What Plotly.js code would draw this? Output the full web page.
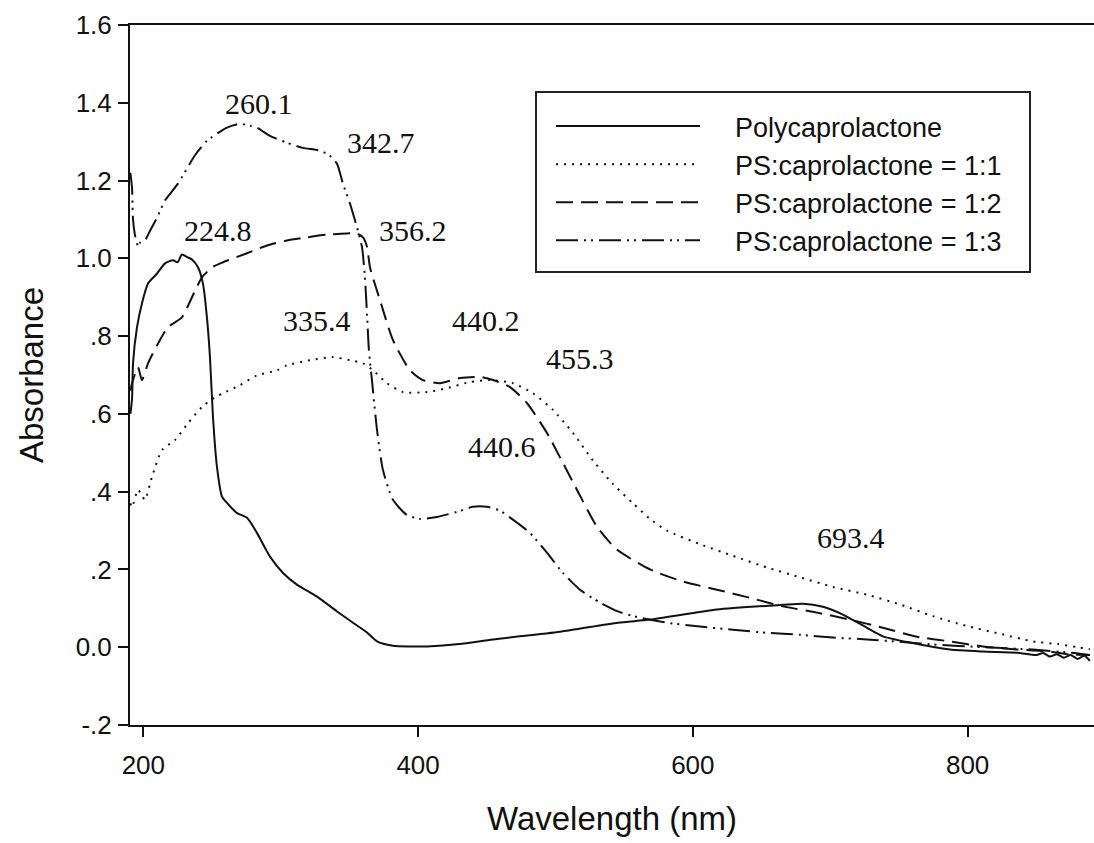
<!DOCTYPE html>
<html>
<head>
<meta charset="utf-8">
<script src="https://cdn.plot.ly/plotly-3.0.1.min.js"></script>
<style>html,body{margin:0;padding:0;background:#fff}#chart{width:1094px;height:843px}</style>
</head>
<body>
<div id="chart"></div>
<script>
// Polycaprolactone (solid)
const pclX = [190.6,191.8,192.5,195.4,199.0,203.4,210.0,215.8,221.6,225.0,228.1,232.0,235.4,239.8,243.4,246.3,248.5,250.7,253.6,257.3,260.9,268.2,275.5,282.7,292.2,301.7,311.8,326.4,341.0,352.6,362.8,370.1,381.7,394.1,406.5,430.0,454.5,503.3,545.5,568.8,617.5,665.6,680.1,694.7,709.2,726.7,738.3,758.0,787.1,811.1,835.9,850.0,855.0,860.0,865.0,870.0,875.0,880.0,885.0,889.0];
const pclY = [0.60,0.64,0.73,0.823,0.884,0.935,0.961,0.987,0.995,0.99,1.01,1.003,0.997,0.977,0.935,0.848,0.746,0.592,0.464,0.387,0.371,0.345,0.333,0.294,0.233,0.191,0.161,0.13,0.092,0.063,0.038,0.015,0.004,0.002,0.002,0.008,0.02,0.04,0.063,0.071,0.097,0.109,0.112,0.104,0.084,0.05,0.028,0.012,-0.006,-0.011,-0.014,-0.02,-0.015,-0.024,-0.018,-0.027,-0.02,-0.03,-0.022,-0.035];

// PS:caprolactone = 1:1 (dotted)
const r11X = [190.6,191.8,196.1,199.0,201.2,206.3,213.6,223.1,232.5,242.7,252.2,258.0,270.4,282.7,297.3,304.6,321.3,338.0,350.4,359.9,367.2,377.3,389.0,406.5,421.0,437.8,452.3,469.0,483.6,498.2,512.7,527.3,541.8,556.4,568.8,581.1,605.1,629.2,653.9,677.9,701.9,726.7,750.7,774.7,799.0,823.0,847.5,866.0,880.0,889.0];
const r11Y = [0.37,0.36,0.405,0.39,0.379,0.438,0.507,0.533,0.576,0.618,0.643,0.653,0.674,0.699,0.712,0.725,0.738,0.746,0.738,0.73,0.712,0.679,0.656,0.656,0.666,0.682,0.687,0.679,0.653,0.61,0.551,0.48,0.42,0.37,0.33,0.30,0.265,0.235,0.205,0.18,0.155,0.135,0.11,0.08,0.055,0.035,0.015,0.008,0.0,-0.005];

// PS:caprolactone = 1:2 (dashed)
const r12X = [190.6,191.8,196.1,199.0,203.4,210.7,218.0,228.1,235.4,242.7,250.0,258.0,275.5,290.0,304.6,319.0,333.6,348.2,355.5,359.9,362.8,365.0,372.3,381.7,394.1,403.5,415.9,430.5,445.0,454.5,466.9,479.2,493.8,505.4,515.6,530.2,544.7,568.8,592.8,617.5,641.5,665.6,690.3,714.3,738.3,763.1,787.1,811.1,835.9,859.9,874.4,889.0];
const r12Y = [0.66,0.679,0.72,0.687,0.73,0.781,0.823,0.848,0.9,0.951,0.977,0.99,1.013,1.033,1.046,1.054,1.061,1.064,1.064,1.054,1.03,0.977,0.892,0.79,0.712,0.687,0.679,0.692,0.695,0.687,0.669,0.628,0.551,0.474,0.405,0.31,0.251,0.2,0.169,0.148,0.127,0.105,0.089,0.071,0.05,0.027,0.015,0.002,-0.006,-0.011,-0.019,-0.02];

// PS:caprolactone = 1:3 (dash-dot-dot)
const r13X = [190.6,191.8,192.5,193.9,195.4,196.1,197.6,201.2,204.9,210.0,215.8,225.2,237.6,246.3,260.9,270.4,277.6,282.7,292.2,304.6,316.2,328.6,335.9,341.0,345.3,350.4,355.5,359.2,361.3,362.8,364.2,366.4,370.1,374.4,381.7,391.9,401.4,413.7,428.3,439.9,450.1,459.6,469.0,481.4,493.8,505.4,517.8,532.4,545.5,556.4,581.1,605.1,629.2,653.9,677.9,701.9,726.7,750.7,774.7,811.1,847.5,874.4,889.0];
const r13Y = [1.22,1.18,1.10,1.06,1.04,1.03,1.04,1.046,1.071,1.105,1.149,1.192,1.265,1.302,1.336,1.346,1.341,1.336,1.315,1.297,1.284,1.277,1.264,1.243,1.192,1.141,1.08,1.028,0.951,0.858,0.764,0.687,0.559,0.456,0.379,0.34,0.33,0.335,0.348,0.361,0.361,0.351,0.328,0.294,0.243,0.191,0.148,0.115,0.092,0.08,0.063,0.053,0.045,0.037,0.032,0.025,0.02,0.014,0.007,0.0,-0.006,-0.014,-0.02];

const seriesNames = ['Polycaprolactone','PS:caprolactone = 1:1','PS:caprolactone = 1:2','PS:caprolactone = 1:3'];

// Peak labels
const peakText = ['260.1','342.7','224.8','356.2','335.4','440.2','455.3','440.6','693.4'];
const peakX = [284.2,373.0,254.3,396.3,326.4,449.4,517.8,461.0,715.0];
const peakY = [1.398,1.298,1.072,1.072,0.841,0.841,0.743,0.515,0.281];

const xTicks = [200,400,600,800];
const yTicks = [-0.2,0,0.2,0.4,0.6,0.8,1.0,1.2,1.4,1.6];
const yTickText = ['-.2','0.0','.2','.4','.6','.8','1.0','1.2','1.4','1.6'];

const dashes = ['solid','2px,6px','17px,8px','22px,6px,2px,5px,2px,6px'];
const xs = [pclX,r11X,r12X,r13X];
const ys = [pclY,r11Y,r12Y,r13Y];
const pad = '\u00a0\u00a0\u00a0\u00a0';

const traces = xs.map((x,i)=>({
  x:x, y:ys[i], type:'scatter', mode:'lines', name:pad + seriesNames[i],
  line:{color:'#111', width:2, dash:dashes[i], shape:'spline', smoothing:0.6}
}));

const annotations = peakText.map((t,i)=>({
  x:peakX[i], y:peakY[i], xref:'x', yref:'y', text:t, showarrow:false,
  font:{family:'"Liberation Serif", "Times New Roman", serif', size:30, color:'#111'}
}));

const layout = {
  width:1094, height:843,
  margin:{l:130, r:0, t:25, b:118},
  paper_bgcolor:'#fff', plot_bgcolor:'#fff',
  font:{family:'"Liberation Sans", Arial, sans-serif', color:'#111'},
  showlegend:true,
  legend:{x:(551-130)/964, y:0.89, xanchor:'left', yanchor:'top', bgcolor:'rgba(0,0,0,0)',
    borderwidth:0, itemwidth:144, font:{size:27, family:'"Liberation Sans", Arial, sans-serif', color:'#111'}},
  shapes:[{type:'rect', xref:'paper', yref:'paper', x0:(536-130)/964, x1:(1030-130)/964,
    y0:(725-272)/700, y1:(725-92)/700, line:{color:'#222', width:2}}],
  xaxis:{range:[190.3,892], showline:true, linecolor:'#111', linewidth:2, mirror:true,
    ticks:'outside', ticklen:10, tickwidth:2, tickcolor:'#111', tickvals:xTicks,
    showgrid:false, zeroline:false, ticklabelstandoff:6,
    tickfont:{size:26}, title:{text:'Wavelength (nm)', font:{size:33}, standoff:28}},
  yaxis:{range:[-0.2,1.6], showline:true, linecolor:'#111', linewidth:2, mirror:false,
    ticks:'outside', ticklen:10, tickwidth:2, tickcolor:'#111', tickvals:yTicks, ticktext:yTickText,
    showgrid:false, zeroline:false, ticklabelstandoff:1,
    tickfont:{size:26}, title:{text:'Absorbance', font:{size:33}, standoff:22}},
  annotations:annotations
};

Plotly.newPlot('chart', traces, layout, {displayModeBar:false, staticPlot:true});
</script>
</body>
</html>
